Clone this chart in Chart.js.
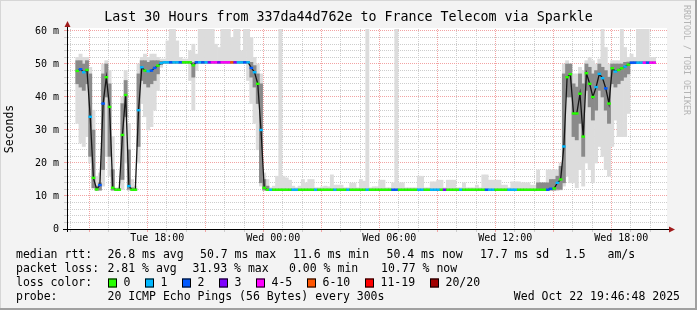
<!DOCTYPE html>
<html>
<head>
<meta charset="utf-8">
<script src="https://cdn.jsdelivr.net/npm/chart.js@4/dist/chart.umd.min.js"></script>
<style>
  html, body { margin: 0; padding: 0; background: #f3f3f3; }
  canvas { display: block; }
</style>
</head>
<body>
<canvas id="smoke" width="697" height="310"></canvas>
<script>
// 10 minute samples, first one at Tue 13:52 (hours counted from Tue 00:00)
const startHour = 13 + 52 / 60;
const stepHour = 10 / 60;

// median rtt (ms)
const median = [
  47.9, 48.4, 47.5, 48.2, 34, 15.5, 12, 13.3, 38, 46,
  37, 12.5, 11.9, 11.9, 28.5, 40.6, 13, 11.9, 11.9, 36,
  49, 48, 47.8, 48, 48.8, 49.5, 50.3, 50.5, 50.5, 50.5,
  50.5, 50.5, 50.5, 50.5, 50.5, 50.5, 49.6, 50.5, 50.5, 50.5,
  50.5, 50.5, 50.5, 50.5, 50.5, 50.5, 50.5, 50.5, 50.5, 50.5,
  50.5, 50.5, 50.5, 50.5, 48.8, 47.5, 44, 30, 12.5, 11.9,
  11.9, 11.9, 11.9, 11.9, 11.9, 11.9, 11.9, 11.9, 11.9, 11.9,
  11.9, 11.9, 11.9, 11.9, 11.9, 11.9, 11.9, 11.9, 11.9, 11.9,
  11.9, 11.9, 11.9, 11.9, 11.9, 11.9, 11.9, 11.9, 11.9, 11.9,
  11.9, 11.9, 11.9, 11.9, 11.9, 11.9, 11.9, 11.9, 11.9, 11.9,
  11.9, 11.9, 11.9, 11.9, 11.9, 11.9, 11.9, 11.9, 11.9, 11.9,
  11.9, 11.9, 11.9, 11.9, 11.9, 11.9, 11.9, 11.9, 11.9, 11.9,
  11.9, 11.9, 11.9, 11.9, 11.9, 11.9, 11.9, 11.9, 11.9, 11.9,
  11.9, 11.9, 11.9, 11.9, 11.9, 11.9, 11.9, 11.9, 11.9, 11.9,
  11.9, 11.9, 11.9, 11.9, 11.9, 11.9, 11.9, 12.2, 12.3, 14,
  15, 25, 46, 46.9, 35, 35, 41, 28, 47.2, 44,
  40, 43, 47, 45.7, 42.6, 38, 48.7, 47.7, 48.2, 48.7,
  49.2, 49.8, 50.4, 50.4, 50.4, 50.4, 50.4, 50.4, 50.4, 50.4
];

// smoke: fastest / slowest ping of each sample
const smokeMin = [
  32, 26, 25, 28, 20, 12.3, 11.6, 11.6, 13, 22,
  16, 11.6, 11.6, 11.6, 12, 20, 11.6, 11.6, 11.6, 20,
  38, 34, 30, 31, 36, 42, 49, 50.1, 50.1, 50.1,
  50.1, 50.1, 50.1, 50.1, 50.1, 45, 36, 48, 50.1, 50.1,
  50.1, 50.1, 50.1, 50.1, 50.1, 50.1, 50.1, 50.1, 50.1, 50.1,
  50.1, 50.1, 50.1, 45, 38, 32, 24, 13, 11.6, 11.6,
  11.6, 11.6, 11.6, 11.6, 11.6, 11.6, 11.6, 11.6, 11.6, 11.6,
  11.6, 11.6, 11.6, 11.6, 11.6, 11.6, 11.6, 11.6, 11.6, 11.6,
  11.6, 11.6, 11.6, 11.6, 11.6, 11.6, 11.6, 11.6, 11.6, 11.6,
  11.6, 11.6, 11.6, 11.6, 11.6, 11.6, 11.6, 11.6, 11.6, 11.6,
  11.6, 11.6, 11.6, 11.6, 11.6, 11.6, 11.6, 11.6, 11.6, 11.6,
  11.6, 11.6, 11.6, 11.6, 11.6, 11.6, 11.6, 11.6, 11.6, 11.6,
  11.6, 11.6, 11.6, 11.6, 11.6, 11.6, 11.6, 11.6, 11.6, 11.6,
  11.6, 11.6, 11.6, 11.6, 11.6, 11.6, 11.6, 11.6, 11.6, 11.6,
  11.6, 11.6, 11.6, 11.6, 11.6, 11.6, 11.6, 11.6, 11.6, 11.6,
  11.8, 13, 16, 14, 14, 12.5, 18, 13, 20, 18,
  14, 20, 25, 22, 18, 16, 25, 33, 28, 28,
  28, 35, 50, 50.1, 50.1, 50.1, 50.1, 50.1, 50.1, 50.1
];
const smokeMax = [
  52, 53, 52, 52, 49, 36, 16, 17, 50, 51,
  48, 28, 12.5, 12.5, 40, 48, 32, 15, 13, 50,
  52, 53, 52, 53, 53, 52, 51.5, 51.5, 57, 61,
  61, 57, 52, 51.5, 51.5, 54, 56, 53, 61, 61,
  61, 61, 61, 56, 55, 61, 61, 61, 58, 61,
  61, 54, 61, 61, 58, 52, 50, 47, 17, 15,
  12.5, 13, 16, 61, 16, 15.5, 14.8, 13, 12.5, 13,
  15, 14, 15, 15, 12.5, 12.5, 12.8, 13, 12.8, 16.4,
  13.3, 13.3, 13.3, 12.5, 12.5, 13.9, 13.9, 12.5, 15, 14.5,
  61, 12.5, 12.8, 12.8, 14.8, 14.8, 12.5, 12.5, 14, 61,
  14, 14, 12.5, 12.5, 12.5, 12.5, 16, 16, 12.5, 12.5,
  14.3, 14.3, 14.8, 14.8, 12.5, 14.8, 14.8, 14.8, 12.5, 12.5,
  14, 12.5, 12.5, 12.5, 13.3, 12.5, 16.4, 16.4, 14.8, 14.8,
  14.8, 14.8, 13.3, 13.3, 12.5, 14.3, 14.3, 14.3, 14, 14,
  14, 13.3, 13.3, 17.9, 13, 13, 17.9, 17.9, 17.9, 17.9,
  20, 50, 51, 50, 47, 47, 49, 48, 51, 52,
  51, 50, 51.5, 61, 55, 50, 51, 51, 51, 61,
  55, 52, 53, 52, 61, 61, 61, 61, 52, 52
];

// dense middle part of the smoke
const coreLo = [
  44, 43, 42, 44, 22, 12.5, 11.8, 11.8, 18, 40,
  22, 11.8, 11.8, 11.8, 15, 34, 12, 11.8, 11.8, 25,
  45, 44, 43, 44, 45, 47, 49.8, 50.2, 50.2, 50.2,
  50.2, 50.2, 50.2, 50.2, 50.2, 50.2, 46, 50.2, 50.2, 50.2,
  50.2, 50.2, 50.2, 50.2, 50.2, 50.2, 50.2, 50.2, 50.2, 50.2,
  50.2, 50.2, 50.2, 50.2, 46, 43, 38, 14, 11.8, 11.8,
  11.7, 11.7, 11.7, 11.7, 11.7, 11.7, 11.7, 11.7, 11.7, 11.7,
  11.7, 11.7, 11.7, 11.7, 11.7, 11.7, 11.7, 11.7, 11.7, 11.7,
  11.7, 11.7, 11.7, 11.7, 11.7, 11.7, 11.7, 11.7, 11.7, 11.7,
  11.7, 11.7, 11.7, 11.7, 11.7, 11.7, 11.7, 11.7, 11.7, 11.7,
  11.7, 11.7, 11.7, 11.7, 11.7, 11.7, 11.7, 11.7, 11.7, 11.7,
  11.7, 11.7, 11.7, 11.7, 11.7, 11.7, 11.7, 11.7, 11.7, 11.7,
  11.7, 11.7, 11.7, 11.7, 11.7, 11.7, 11.7, 11.7, 11.7, 11.7,
  11.7, 11.7, 11.7, 11.7, 11.7, 11.7, 11.7, 11.7, 11.7, 11.7,
  11.7, 11.7, 11.7, 11.8, 11.8, 11.8, 11.8, 11.8, 11.8, 12,
  12, 14, 40, 40, 28, 27, 32, 22, 42, 37,
  33, 36, 42, 40, 36, 32, 44, 43, 44, 45,
  46, 47, 50.1, 50.1, 50.1, 50.1, 50.1, 50.1, 50.1, 50.1
];
const coreHi = [
  51, 51, 50, 51, 47, 30, 13, 14, 47, 50,
  44, 18, 12.2, 12.2, 38, 45, 24, 12.5, 12.2, 47,
  51, 51, 50.5, 51, 51, 51, 50.8, 50.8, 50.8, 50.8,
  50.8, 50.8, 50.8, 50.8, 50.8, 50.8, 50.5, 50.8, 50.8, 50.8,
  50.8, 50.8, 50.8, 50.8, 50.8, 50.8, 50.8, 50.8, 50.8, 50.8,
  50.8, 50.8, 50.8, 50.8, 50.5, 49.5, 47, 44, 15, 13,
  12.1, 12.1, 12.1, 12.1, 12.1, 12.1, 12.1, 12.1, 12.1, 12.1,
  12.1, 12.1, 12.1, 12.1, 12.1, 12.1, 12.1, 12.1, 12.1, 12.1,
  12.1, 12.1, 12.1, 12.1, 12.1, 12.1, 12.1, 12.1, 12.1, 12.1,
  12.1, 12.1, 12.1, 12.1, 12.1, 12.1, 12.1, 12.1, 12.1, 12.1,
  12.1, 12.1, 12.1, 12.1, 12.1, 12.1, 12.1, 12.1, 12.1, 12.1,
  12.1, 12.1, 12.1, 12.1, 12.1, 12.1, 12.1, 12.1, 12.1, 12.1,
  12.1, 12.1, 12.1, 12.1, 12.1, 12.1, 12.1, 12.1, 12.1, 12.1,
  12.1, 12.1, 12.1, 12.1, 12.1, 12.1, 12.1, 12.1, 12.1, 12.1,
  12.1, 12.1, 12.1, 14, 14, 14, 14, 15, 15, 16,
  19, 47, 50, 50, 44, 43, 47, 44, 50, 49,
  47, 48, 50, 49, 48, 46, 50, 50, 50, 50,
  50.5, 50.6, 50.7, 50.7, 50.7, 50.7, 50.7, 50.7, 50.7, 50.7
];

// packet loss class of each sample (index into lossLabels)
const lossLevel = [
  0, 2, 1, 0, 1, 0, 0, 2, 2, 0,
  0, 0, 0, 0, 0, 0, 1, 0, 0, 1,
  1, 0, 1, 2, 2, 0, 1, 1, 1, 2,
  1, 1, 2, 0, 0, 0, 0, 2, 1, 2,
  1, 3, 4, 4, 3, 4, 4, 4, 5, 3,
  1, 1, 2, 1, 2, 1, 0, 1, 0, 0,
  1, 0, 0, 0, 0, 0, 0, 1, 1, 0,
  0, 0, 0, 0, 1, 0, 0, 0, 0, 0,
  1, 0, 0, 0, 1, 0, 0, 0, 0, 0,
  1, 0, 0, 0, 0, 0, 0, 0, 2, 2,
  0, 0, 0, 0, 0, 0, 1, 1, 0, 0,
  1, 1, 1, 0, 3, 0, 0, 0, 0, 1,
  0, 0, 0, 0, 0, 0, 0, 2, 1, 1,
  0, 0, 0, 0, 1, 1, 1, 0, 0, 0,
  0, 0, 0, 0, 0, 0, 2, 2, 0, 1,
  0, 1, 0, 0, 0, 0, 0, 0, 0, 0,
  0, 1, 1, 1, 2, 0, 0, 1, 0, 0,
  1, 0, 2, 2, 1, 1, 4, 2, 4, 4
];
const lossLabels = ["0", "1", "2", "3", "4-5", "6-10", "11-19", "20/20"];
const lossColors = ["#26ff00", "#00b8ff", "#0059ff", "#7e00ff", "#ff00ff", "#ff5500", "#ff0000", "#a10000"];

// axes
const xLabelHours = [18, 24, 30, 36, 42];
const xLabels = ["Tue 18:00", "Wed 00:00", "Wed 06:00", "Wed 12:00", "Wed 18:00"];
const yLabelValues = [0, 10, 20, 30, 40, 50, 60];
const yLabels = ["0", "10 m", "20 m", "30 m", "40 m", "50 m", "60 m"];

// texts
const titleText = "Last 30 Hours from 337da44d762e to France Telecom via Sparkle";
const rttItems = ["26.8 ms avg", "50.7 ms max", "11.6 ms min", "50.4 ms now", "17.7 ms sd", "1.5", "am/s"];
const lossItems = ["2.81 % avg", "31.93 % max", "0.00 % min", "10.77 % now"];
const probeText = "20 ICMP Echo Pings (56 Bytes) every 300s";
const stampText = "Wed Oct 22 19:46:48 2025";

const mono = '"DejaVu Sans Mono", monospace';
const gridGrey = "#cdcdcd";
const gridRed = "#f2a3a3";

const hourAt = i => startHour + i * stepHour;
const points = arr => arr.map((v, i) => ({ x: hourAt(i), y: v }));
const ranges = (lo, hi) => lo.map((v, i) => ({ x: hourAt(i), y: [v, hi[i]] }));

const hourTicks = [];
for (let h = 14; h <= 43; h++) hourTicks.push(h);
const msTicks = [];
for (let v = 0; v <= 60; v += 2) msTicks.push(v);

// background, canvas frame, title, arrows and the legend block
const rrdLook = {
  id: "rrdLook",
  beforeDraw(chart) {
    const { ctx, width, height, chartArea: a } = chart;
    ctx.save();
    ctx.fillStyle = "#f3f3f3";
    ctx.fillRect(0, 0, width, height);
    ctx.fillStyle = "#ffffff";
    ctx.fillRect(a.left, a.top - 1, a.right - a.left, a.bottom - a.top + 1);
    ctx.fillStyle = "#d6d6d6";
    ctx.fillRect(0, 0, width, 1);
    ctx.fillRect(0, 0, 1, height);
    ctx.fillStyle = "#a0a0a0";
    ctx.fillRect(0, height - 2, width, 2);
    ctx.fillRect(width - 2, 0, 2, height);
    ctx.restore();
  },
  afterDraw(chart) {
    const { ctx, width, chartArea: a } = chart;
    ctx.save();

    // axis extensions + arrows
    ctx.strokeStyle = "#000";
    ctx.lineWidth = 1;
    ctx.beginPath();
    ctx.moveTo(a.left - 4, a.bottom + 0.5);
    ctx.lineTo(a.right + 2, a.bottom + 0.5);
    ctx.moveTo(a.left + 0.5, a.bottom + 3);
    ctx.lineTo(a.left + 0.5, a.top - 3);
    ctx.stroke();
    ctx.fillStyle = "#a01c1c";
    ctx.beginPath();
    ctx.moveTo(a.left + 0.5, a.top - 8);
    ctx.lineTo(a.left - 2.5, a.top - 2);
    ctx.lineTo(a.left + 3.5, a.top - 2);
    ctx.closePath();
    ctx.fill();
    ctx.beginPath();
    ctx.moveTo(a.right + 8, a.bottom + 0.5);
    ctx.lineTo(a.right + 2, a.bottom - 2.5);
    ctx.lineTo(a.right + 2, a.bottom + 3.5);
    ctx.closePath();
    ctx.fill();

    // title
    ctx.fillStyle = "#000";
    ctx.textBaseline = "middle";
    ctx.textAlign = "center";
    ctx.font = "13.3px " + mono;
    ctx.fillText(titleText, width / 2, 18);

    // watermark
    ctx.save();
    ctx.translate(686, 5);
    ctx.rotate(Math.PI / 2);
    ctx.textAlign = "left";
    ctx.fillStyle = "#b4b4b4";
    ctx.font = "8.3px " + mono;
    ctx.fillText("RRDTOOL / TOBI OETIKER", 0, 0);
    ctx.restore();

    // legend rows
    ctx.textAlign = "left";
    ctx.font = "11.5px " + mono;
    const rttX = [107.5, 200, 293, 386.5, 480, 565, 607.5];
    ctx.fillText("median rtt:", 16, 255);
    rttItems.forEach((t, i) => ctx.fillText(t, rttX[i], 255));

    const lossX = [107.5, 192.5, 289, 381];
    ctx.fillText("packet loss:", 16, 269);
    lossItems.forEach((t, i) => ctx.fillText(t, lossX[i], 269));

    ctx.fillText("loss color:", 16, 283);
    let sx = 108;
    lossLabels.forEach((label, i) => {
      ctx.fillStyle = lossColors[i];
      ctx.fillRect(sx, 278.5, 9, 9);
      ctx.strokeStyle = "#000";
      ctx.strokeRect(sx + 0.5, 278.5 + 0.5, 8, 8);
      ctx.fillStyle = "#000";
      ctx.fillText(label, sx + 15.5, 283);
      sx += 30 + 7 * label.length;
    });

    ctx.fillText("probe:", 16, 297);
    ctx.fillText(probeText, 107.5, 297);
    ctx.textAlign = "right";
    ctx.fillText(stampText, 680, 297);
    ctx.restore();
  }
};

const ctx = document.querySelector("#smoke").getContext("2d");

new Chart(ctx, {
  type: "bar",
  data: {
    datasets: [
      {
        type: "line",
        data: points(median),
        showLine: false,
        pointStyle: "line",
        pointRadius: 1.8,
        pointBorderWidth: 2.4,
        pointBorderColor: lossLevel.map(l => lossColors[l]),
        order: 1
      },
      {
        type: "line",
        data: points(median),
        borderColor: "#151515",
        borderWidth: 1.3,
        pointRadius: 0,
        tension: 0,
        order: 2
      },
      {
        data: ranges(coreLo, coreHi),
        backgroundColor: "#8a8a8a",
        grouped: false,
        barPercentage: 1,
        categoryPercentage: 1,
        order: 3
      },
      {
        data: ranges(smokeMin, smokeMax),
        backgroundColor: "#dcdcdc",
        grouped: false,
        barPercentage: 1,
        categoryPercentage: 1,
        order: 4
      }
    ]
  },
  options: {
    responsive: false,
    animation: false,
    devicePixelRatio: 1,
    layout: { padding: { top: 29, right: 30, bottom: 61, left: 0 } },
    plugins: {
      legend: { display: false },
      tooltip: { enabled: false }
    },
    scales: {
      x: {
        type: "linear",
        min: 13.85,
        max: 43.85,
        afterBuildTicks: s => { s.ticks = hourTicks.map(v => ({ value: v })); },
        afterFit: s => { s.height = 20; },
        ticks: {
          autoSkip: false,
          maxRotation: 0,
          padding: 0,
          color: "#000",
          font: { family: mono, size: 10 },
          callback: v => {
            const k = xLabelHours.indexOf(v);
            return k >= 0 ? xLabels[k] : "";
          }
        },
        grid: {
          color: c => (c.tick && c.tick.value % 3 === 0 ? gridRed : gridGrey),
          tickColor: c => (c.tick && c.tick.value % 3 === 0 ? gridRed : gridGrey),
          tickLength: 3,
          lineWidth: 1
        },
        border: { color: "#000", dash: [1, 1] }
      },
      y: {
        min: 0,
        max: 60.6,
        afterBuildTicks: s => { s.ticks = msTicks.map(v => ({ value: v })); },
        afterFit: s => { s.width = 67; },
        ticks: {
          autoSkip: false,
          padding: 5,
          color: "#000",
          font: { family: mono, size: 10 },
          callback: v => {
            const k = yLabelValues.indexOf(v);
            return k >= 0 ? yLabels[k] : "";
          }
        },
        grid: {
          color: c => (c.tick && c.tick.value % 10 === 0 ? gridRed : gridGrey),
          tickColor: c => (c.tick && c.tick.value % 10 === 0 ? gridRed : gridGrey),
          tickLength: 3,
          lineWidth: 1
        },
        border: { color: "#000", dash: [1, 1] },
        title: {
          display: true,
          text: "Seconds",
          color: "#000",
          font: { family: mono, size: 11.5 },
          padding: { top: 3, bottom: 0 }
        }
      }
    }
  },
  plugins: [rrdLook]
});
</script>
</body>
</html>
